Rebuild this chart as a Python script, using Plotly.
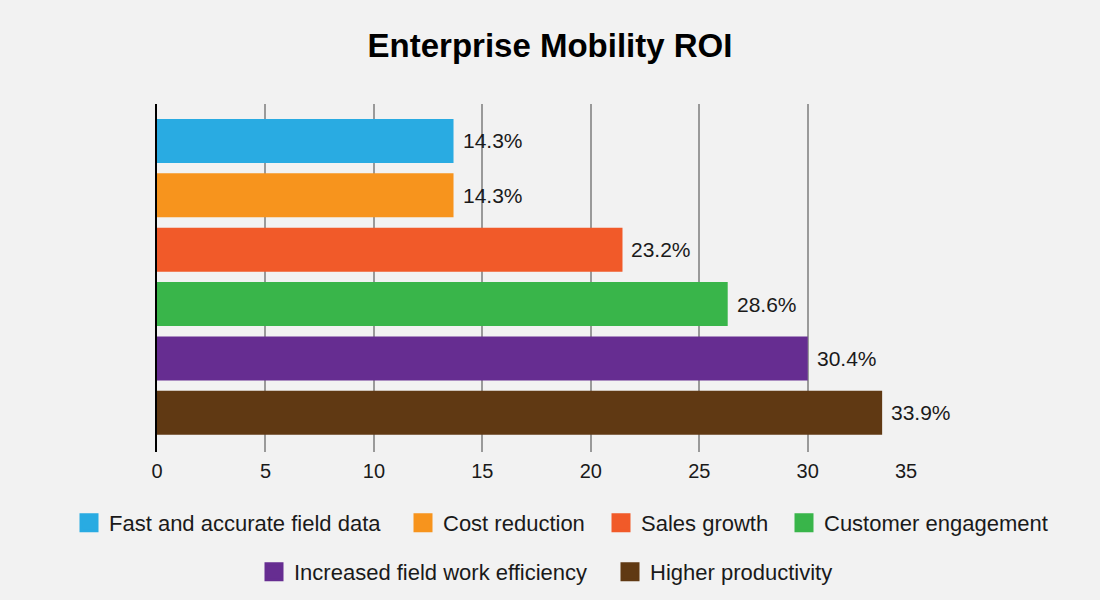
import plotly.graph_objects as go

# ---- data ----
categories = ["Fast and accurate field data", "Cost reduction", "Sales growth",
              "Customer engagement", "Increased field work efficiency", "Higher productivity"]
bar_values = [13.67, 13.67, 21.46, 26.31, 30.0, 33.43]
value_labels = ["14.3%", "14.3%", "23.2%", "28.6%", "30.4%", "33.9%"]
colors = ["#29abe2", "#f7941d", "#f15a29", "#39b54a", "#662d91", "#603913"]
tick_vals = [0, 5, 10, 15, 20, 25, 30, 34.53]
tick_text = ["0", "5", "10", "15", "20", "25", "30", "35"]

FONT = "Arial, Liberation Sans, Helvetica, sans-serif"
W, H = 1100, 600
L, R, T, B = 157, 194.3, 104, 148

# legend square left positions (px) and row centres (px)
legend_pos = [(79, 523), (413, 523), (611, 523), (794, 523), (264, 572), (620, 572)]

fig = go.Figure()
for i, (cat, val, col) in enumerate(zip(categories, bar_values, colors)):
    fig.add_trace(go.Bar(
        x=[val], y=[cat], orientation="h", width=0.81,
        marker=dict(color=col, line=dict(width=0)),
        showlegend=False, hoverinfo="x+y",
    ))
for i, (cat, col) in enumerate(zip(categories, colors)):
    lg = "legend" if i == 0 else f"legend{i+1}"
    fig.add_trace(go.Scatter(
        x=[None], y=[None], mode="markers", name=cat,
        marker=dict(symbol="square", size=20, color=col, line=dict(width=3, color=col)),
        legend=lg, showlegend=True,
    ))

for cat, val, lab in zip(categories, bar_values, value_labels):
    fig.add_annotation(x=val, y=cat, text=lab, showarrow=False,
                       xanchor="left", yanchor="middle", xshift=7,
                       font=dict(family=FONT, size=21, color="#1a1a1a"))

layout_legends = {}
for i, (lx, ly) in enumerate(legend_pos):
    key = "legend" if i == 0 else f"legend{i+1}"
    layout_legends[key] = dict(
        x=(lx + 10 - 20) / W, y=1 - ly / H, xanchor="left", yanchor="middle",
        xref="container", yref="container",
        bgcolor="rgba(0,0,0,0)", borderwidth=0,
        font=dict(family=FONT, size=22, color="#1a1a1a"),
        itemsizing="trace", orientation="h",
    )

fig.update_layout(
    width=W, height=H,
    margin=dict(l=L, r=R, t=T, b=B, pad=0, autoexpand=False),
    paper_bgcolor="#f2f2f2", plot_bgcolor="rgba(0,0,0,0)",
    barmode="overlay",
    title=dict(text="<b>Enterprise Mobility ROI</b>", x=0.5, xanchor="center",
               y=1 - 45 / H, yanchor="middle", yref="container",
               font=dict(family=FONT, size=33, color="#000000")),
    xaxis=dict(range=[0, 34.53], tickvals=tick_vals, ticktext=tick_text,
               showgrid=True, gridcolor="#9a9a9a", gridwidth=1.5,
               zeroline=False, showline=False, ticks="outside", ticklen=1,
               tickcolor="rgba(0,0,0,0)",
               tickfont=dict(family=FONT, size=20, color="#1a1a1a")),
    yaxis=dict(categoryorder="array", categoryarray=categories,
               range=[5.72, -0.68], showticklabels=False, showgrid=False,
               zeroline=False, showline=True, linecolor="#000000", linewidth=2,
               ticks=""),
    **layout_legends,
)

fig.write_html("out.html",
               config={"displayModeBar": False},
               post_script="document.body.style.margin='0';document.body.style.background='#f2f2f2';")
